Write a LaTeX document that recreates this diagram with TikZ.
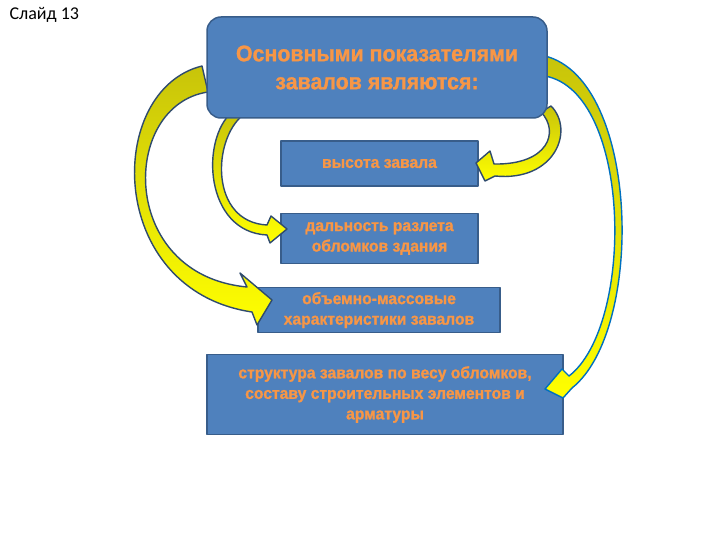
\documentclass[tikz,border=0pt]{standalone}
\usepackage{fontspec}
\setmainfont{Carlito}
\newfontfamily\boxfont{Liberation Sans}[FakeStretch=0.95,FakeBold=1.2]
\definecolor{slideBlue}{HTML}{4F81BD}
\definecolor{slideEdge}{HTML}{385D8A}
\definecolor{slideOrange}{HTML}{F79646}
\definecolor{arrOlive}{HTML}{C8C40A}
\definecolor{arrYellow}{HTML}{FFFF00}
\definecolor{arrEdge}{HTML}{2F4B6E}
\definecolor{arrEdgeTwo}{HTML}{0070C0}

\begin{document}
\begin{tikzpicture}[x=1pt,y=-1pt,line join=round]
\path[fill=white] (0,0) rectangle (720,540);
\tikzset{card/.style={draw=slideEdge,fill=slideBlue,line width=1.5pt,text=slideOrange,align=center,inner sep=0pt},bigtxt/.style={font=\boxfont\bfseries\fontsize{22.5}{27}\selectfont},smalltxt/.style={font=\boxfont\bfseries\fontsize{16.5}{20.5}\selectfont},curvearrow/.style={draw=arrEdge,line width=1.4pt,top color=arrOlive,bottom color=arrYellow}}
\node[anchor=west,font=\fontsize{18}{20}\selectfont] (slide) at (6,15) {Слайд 13};
\node[card,smalltxt,minimum width=197pt,minimum height=45pt] (hgt) at (379.5,163.5) {высота завала};
\node[card,smalltxt,minimum width=197pt,minimum height=50pt] (dist) at (379.5,238.5) {дальность разлета\\обломков здания};
\node[card,smalltxt,minimum width=242pt,minimum height=45pt] (mass) at (379,310) {объемно-массовые\\характеристики завалов};
\node[card,smalltxt,minimum width=356pt,minimum height=80pt] (struct) at (385,394.5) {структура завалов по весу обломков,\\составу строительных элементов и\\арматуры};
% curved block arrows
\path[curvearrow] (202,66) .. controls (105,90) and (105,290) .. (252,312) -- (257,325) -- (272,300) -- (240,273) -- (247,287) .. controls (118,275) and (120,105) .. (208,92) -- cycle;
\path[curvearrow] (232,112) .. controls (200,140) and (205,232) .. (267,235) -- (270,243) -- (287,229) -- (271,216) -- (267,225) .. controls (210,222) and (212,140) .. (243,115) -- cycle;
\path[curvearrow] (551,106) .. controls (575,130) and (555,182) .. (495,176) -- (485,181) -- (476,163) -- (490,151) -- (494,164) .. controls (548,165) and (560,132) .. (541,112) -- cycle;
\path[curvearrow,draw=arrEdgeTwo] (545,56) .. controls (640,80) and (645,330) .. (572,388) -- (563,398) -- (545,389) -- (562,369) -- (569,376) .. controls (635,325) and (632,92) .. (545,76) -- cycle;
\node[card,bigtxt,rounded corners=14pt,minimum width=340pt,minimum height=101pt] (title) at (377,67.5) {Основными показателями\\[1pt]завалов являются:};
\end{tikzpicture}
\end{document}
